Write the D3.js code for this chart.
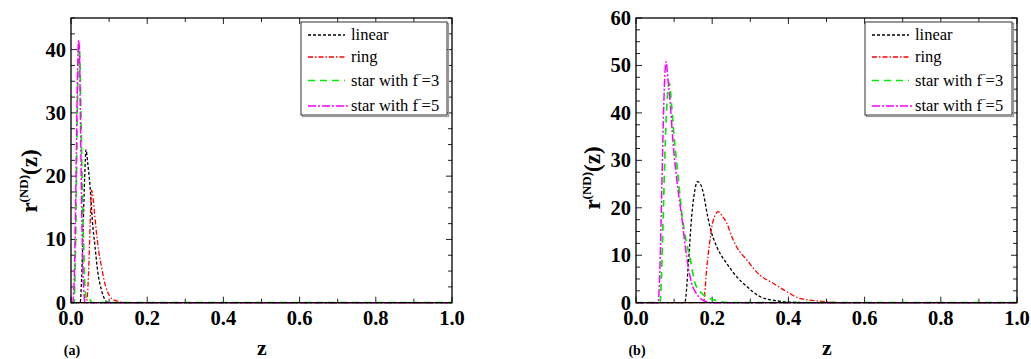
<!doctype html>
<html>
<head>
    <style>
        body { margin: 0; background: white; }
        svg { display: block; }
        text { font-family: "Liberation Serif", "Times New Roman", Times, "DejaVu Serif", serif; }
        .tick-label { font-weight: bold; font-size: 20.5px; fill: black; }
        .axis-title { font-weight: bold; fill: black; }
        .legend text { font-size: 16.5px; fill: black; }
        .curve { fill: none; }
    </style>
    <script src="https://d3js.org/d3.v7.min.js"></script>
</head>
<body>
<script>
    // series names + styles order
    const seriesNames = ['linear', 'ring', 'star with f', 'star with f'];
    const seriesF = [null, null, '3', '5'];

    // panel (a) data
    const linearA_z = [0, 0.024, 0.028, 0.032, 0.036, 0.0394, 0.044, 0.05, 0.056, 0.063, 0.07, 0.08, 0.088, 0.095, 0.11, 1.0];
    const linearA_v = [0, 0, 4, 12, 20, 24.2, 22, 18.4, 13, 8.9, 5, 2, 0.6, 0.1, 0, 0];
    const ringA_z = [0, 0.04, 0.044, 0.048, 0.051, 0.054, 0.058, 0.062, 0.067, 0.073, 0.08, 0.087, 0.094, 0.102, 0.11, 0.125, 0.15, 1.0];
    const ringA_v = [0, 0, 2, 8, 14, 17.8, 16.5, 14, 11, 8, 5.7, 3.5, 2, 1, 0.5, 0.2, 0, 0];
    const star3A_z = [0, 0.008, 0.011, 0.014, 0.017, 0.02, 0.023, 0.026, 0.029, 0.032, 0.035, 0.038, 0.042, 0.048, 0.055, 1.0];
    const star3A_v = [0, 0, 6, 18, 32, 40.5, 39, 30, 20, 12, 5, 1.5, 0.5, 0.6, 0, 0];
    const star5A_z = [0, 0.004, 0.008, 0.012, 0.016, 0.02, 0.022, 0.025, 0.028, 0.031, 0.034, 0.037, 1.0];
    const star5A_v = [0, 0, 3, 15, 32, 41.5, 40, 28, 15, 6, 1.5, 0, 0];

    // panel (b) data
    const linearB_z = [0, 0.128, 0.137, 0.146, 0.153, 0.161, 0.169, 0.177, 0.185, 0.194, 0.212, 0.238, 0.264, 0.291, 0.325, 0.369, 0.41, 0.45, 1.0];
    const linearB_v = [0, 0, 7.6, 18.1, 23, 25.5, 25, 23, 19.5, 16, 11.8, 8.3, 5.5, 3.4, 1.3, 0.4, 0.1, 0, 0];
    const ringB_z = [0, 0.177, 0.186, 0.193, 0.199, 0.207, 0.216, 0.226, 0.238, 0.25, 0.264, 0.291, 0.325, 0.36, 0.396, 0.43, 0.474, 0.51, 0.55, 1.0];
    const ringB_v = [0, 0, 7.6, 12.5, 16, 18.3, 19.2, 18.3, 16.8, 14.2, 11.8, 9, 5.8, 4.1, 2.3, 0.9, 0.4, 0.1, 0, 0];
    const star3B_z = [0, 0.063, 0.067, 0.072, 0.077, 0.082, 0.0875, 0.093, 0.1, 0.11, 0.12, 0.133, 0.141, 0.155, 0.172, 0.186, 0.212, 0.24, 1.0];
    const star3B_v = [0, 0, 6, 20, 34, 43, 46.3, 42, 35, 27, 19, 12.5, 9.7, 4.1, 2, 1.2, 0.4, 0, 0];
    const star5B_z = [0, 0.058, 0.063, 0.068, 0.073, 0.0788, 0.084, 0.089, 0.098, 0.107, 0.12, 0.133, 0.146, 0.158, 0.168, 0.181, 0.2, 1.0];
    const star5B_v = [0, 0, 8, 25, 42, 50.8, 47, 42.8, 33, 26, 18.1, 9.7, 4.1, 2, 1, 0.3, 0, 0];

    const xTicks = [0, 0.2, 0.4, 0.6, 0.8, 1.0];
    const yTicksA = [0, 10, 20, 30, 40];
    const yTicksB = [0, 10, 20, 30, 40, 50, 60];

    const styles = [
        {color: '#000000', dash: '3,2', width: 1.3},
        {color: '#ff0000', dash: '5,2,1.5,2', width: 1.3},
        {color: '#00ee00', dash: '7,5', width: 1.7},
        {color: '#ff00ff', dash: '8,2,2,2', width: 1.5}
    ];

    const svg = d3.select('body').append('svg')
        .attr('width', 1031).attr('height', 359);

    function zip(zs, vs) { return zs.map((z, i) => ({z: z, v: vs[i]})) }

    const panels = [
        {left: 71, right: 452, top: 18, bottom: 302.7, ymax: 45, yTicks: yTicksA, tag: '(a)', tagX: 72, zX: 262, yLabelX: 37, yLabelY: 181,
            legend: {x: 301, y: 22, w: 146, h: 93},
            series: [zip(linearA_z, linearA_v), zip(ringA_z, ringA_v), zip(star3A_z, star3A_v), zip(star5A_z, star5A_v)]},
        {left: 636, right: 1017, top: 18, bottom: 302.7, ymax: 60, yTicks: yTicksB, tag: '(b)', tagX: 637, zX: 827, yLabelX: 600, yLabelY: 178,
            legend: {x: 865, y: 22, w: 147, h: 93},
            series: [zip(linearB_z, linearB_v), zip(ringB_z, ringB_v), zip(star3B_z, star3B_v), zip(star5B_z, star5B_v)]}
    ];

    panels.forEach(function (p) {
        const x = d3.scaleLinear().domain([0, 1]).range([p.left, p.right]);
        const y = d3.scaleLinear().domain([0, p.ymax]).range([p.bottom, p.top]);
        const g = svg.append('g');

        // ticks (inward, all four sides)
        const xMinor = d3.range(0, 11).map(i => i / 10);
        const yMinor = d3.range(0, p.ymax / 2.5 + 1).map(i => i * 2.5);
        const tk = g.append('g').attr('stroke', '#222').attr('stroke-width', 1);
        xMinor.forEach(function (t, i) {
            const len = i % 2 === 0 ? 6 : 4;
            tk.append('line').attr('x1', x(t)).attr('x2', x(t)).attr('y1', p.bottom).attr('y2', p.bottom - len);
            tk.append('line').attr('x1', x(t)).attr('x2', x(t)).attr('y1', p.top).attr('y2', p.top + len);
        });
        yMinor.forEach(function (t) {
            const len = (t % 10 === 0) ? 6 : 4;
            tk.append('line').attr('x1', p.left).attr('x2', p.left + len).attr('y1', y(t)).attr('y2', y(t));
            tk.append('line').attr('x1', p.right).attr('x2', p.right - len).attr('y1', y(t)).attr('y2', y(t));
        });

        // curves
        const line = d3.line().x(d => x(d.z)).y(d => y(d.v)).curve(d3.curveMonotoneX);
        p.series.forEach(function (s, i) {
            g.append('path').datum(s).attr('class', 'curve').attr('d', line)
                .attr('stroke', styles[i].color).attr('stroke-width', styles[i].width)
                .attr('stroke-dasharray', styles[i].dash);
        });

        // frame
        g.append('rect').attr('x', p.left).attr('y', p.top)
            .attr('width', p.right - p.left).attr('height', p.bottom - p.top)
            .attr('fill', 'none').attr('stroke', '#000').attr('stroke-width', 1.3);

        // tick labels
        xTicks.forEach(t => g.append('text').attr('class', 'tick-label')
            .attr('x', x(t)).attr('y', 325).attr('text-anchor', 'middle').text(t.toFixed(1)));
        p.yTicks.forEach(t => g.append('text').attr('class', 'tick-label')
            .attr('x', p.left - 5).attr('y', y(t) + 7).attr('text-anchor', 'end').text(t));

        // axis titles
        g.append('text').attr('class', 'axis-title').attr('x', p.zX).attr('y', 355)
            .attr('text-anchor', 'middle').style('font-size', '22px').text('z');
        g.append('text').attr('class', 'axis-title').attr('x', p.tagX).attr('y', 355)
            .attr('text-anchor', 'middle').style('font-size', '14px').text(p.tag);
        const yl = g.append('text').attr('class', 'axis-title')
            .attr('transform', `translate(${p.yLabelX},${p.yLabelY}) rotate(-90)`)
            .attr('text-anchor', 'middle').style('font-size', '23px');
        yl.append('tspan').text('r');
        yl.append('tspan').attr('dy', -9).style('font-size', '13px').text('(ND)');
        yl.append('tspan').attr('dy', 9).text('(z)');

        // legend
        const L = p.legend;
        const lg = g.append('g').attr('class', 'legend');
        lg.append('rect').attr('x', L.x + 1.5).attr('y', L.y + 1.5).attr('width', L.w).attr('height', L.h)
            .attr('fill', 'none').attr('stroke', '#999').attr('stroke-width', 1.2);
        lg.append('rect').attr('x', L.x).attr('y', L.y).attr('width', L.w).attr('height', L.h)
            .attr('fill', 'white').attr('stroke', '#333').attr('stroke-width', 1);
        const rows = [13, 35, 58.5, 84];
        seriesNames.forEach(function (name, i) {
            const ry = L.y + rows[i];
            lg.append('line').attr('x1', L.x + 7).attr('x2', L.x + (i === 3 ? 48 : 44))
                .attr('y1', ry).attr('y2', ry)
                .attr('stroke', styles[i].color).attr('stroke-width', styles[i].width)
                .attr('stroke-dasharray', styles[i].dash);
            const t = lg.append('text').attr('x', L.x + 50).attr('y', ry + 5);
            t.append('tspan').text(name);
            if (seriesF[i]) {
                t.append('tspan').attr('dy', -5).style('font-size', '11px').text('\u02C9');
                t.append('tspan').attr('dy', 5).text('=' + seriesF[i]);
            }
        });
    });
</script>
</body>
</html>
